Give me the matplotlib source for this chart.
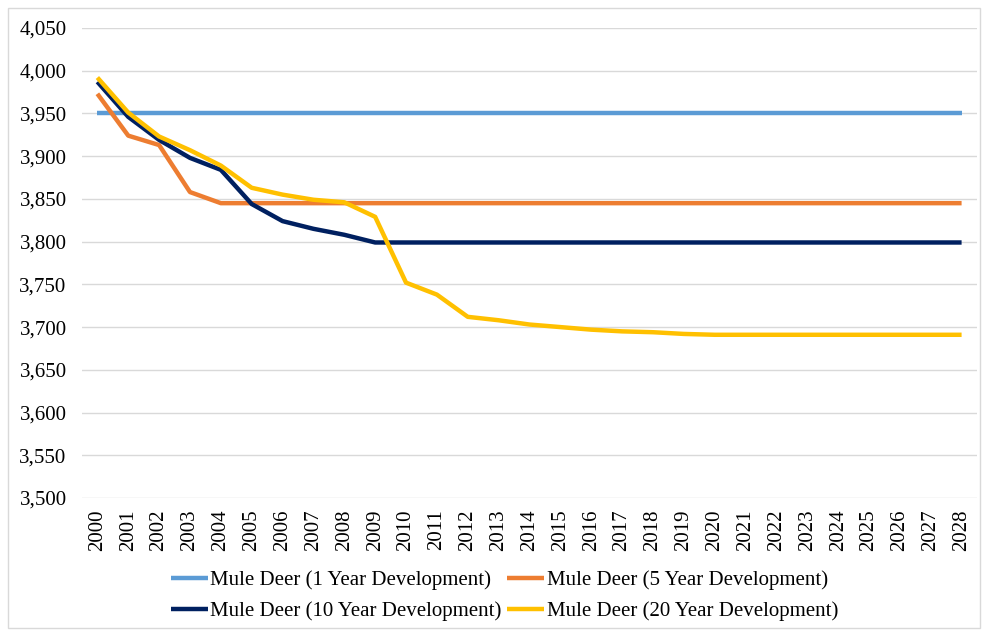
import matplotlib.pyplot as plt
from matplotlib.patches import Rectangle
from matplotlib.ticker import FuncFormatter, MultipleLocator

plt.rcParams['font.family'] = ['Liberation Serif', 'DejaVu Serif']

years = [str(y) for y in range(2000, 2029)]

deer_1yr = [3950] * 29
deer_5yr = [3973, 3924, 3913, 3858, 3845] + [3845] * 24
deer_10yr = [3987, 3946, 3919, 3898, 3884, 3844, 3824, 3815, 3808, 3799] + [3799] * 19
deer_20yr = [3992, 3951, 3923, 3907, 3889, 3863, 3855, 3849, 3846, 3829,
             3752, 3738, 3712, 3708, 3703, 3700, 3697, 3695, 3694, 3692] + [3691] * 9

series = [
    ('Mule Deer (1 Year Development)', deer_1yr, '#5B9BD5'),
    ('Mule Deer (5 Year Development)', deer_5yr, '#ED7D31'),
    ('Mule Deer (10 Year Development)', deer_10yr, '#002060'),
    ('Mule Deer (20 Year Development)', deer_20yr, '#FFC000'),
]

fig = plt.figure(figsize=(9.85, 6.3), dpi=100)
ax = fig.add_axes([0.0832, 0.2095, 0.9087, 0.7461])

lines = {}
for name, vals, color in series:
    ln, = ax.plot(range(len(years)), vals, color=color, lw=3.2, label=name,
                  solid_capstyle='butt', solid_joinstyle='round')
    lines[name] = ln

ax.set_xlim(-0.5, len(years) - 0.5)
ax.set_ylim(3500, 4050)
ax.yaxis.set_major_locator(MultipleLocator(50))
ax.yaxis.set_major_formatter(FuncFormatter(lambda v, p: f'{int(v):,}'))
ax.set_xticks(range(len(years)))
ax.set_xticklabels(years, rotation=90, fontsize=15)
ax.tick_params(axis='y', labelsize=15, length=0, pad=11)
ax.tick_params(axis='x', length=0, pad=8)
ax.grid(axis='y', color='#D9D9D9', lw=1)
ax.set_axisbelow(True)
for s in ax.spines.values():
    s.set_visible(False)

# two-row legend: row 1 = 1yr, 5yr ; row 2 = 10yr, 20yr
order = [series[0][0], series[2][0], series[1][0], series[3][0]]
fig.legend([lines[n] for n in order], order, loc='lower center',
           bbox_to_anchor=(0.512, -0.016), ncol=2, frameon=False, fontsize=15,
           handlelength=1.8, handletextpad=0.1, columnspacing=0.25,
           labelspacing=0.55)

# light outer chart border
fig.patches.append(Rectangle((0.008, 0.003), 0.987, 0.984, transform=fig.transFigure,
                             fill=False, edgecolor='#D9D9D9', lw=1))

fig.savefig('out.png', dpi=100)
